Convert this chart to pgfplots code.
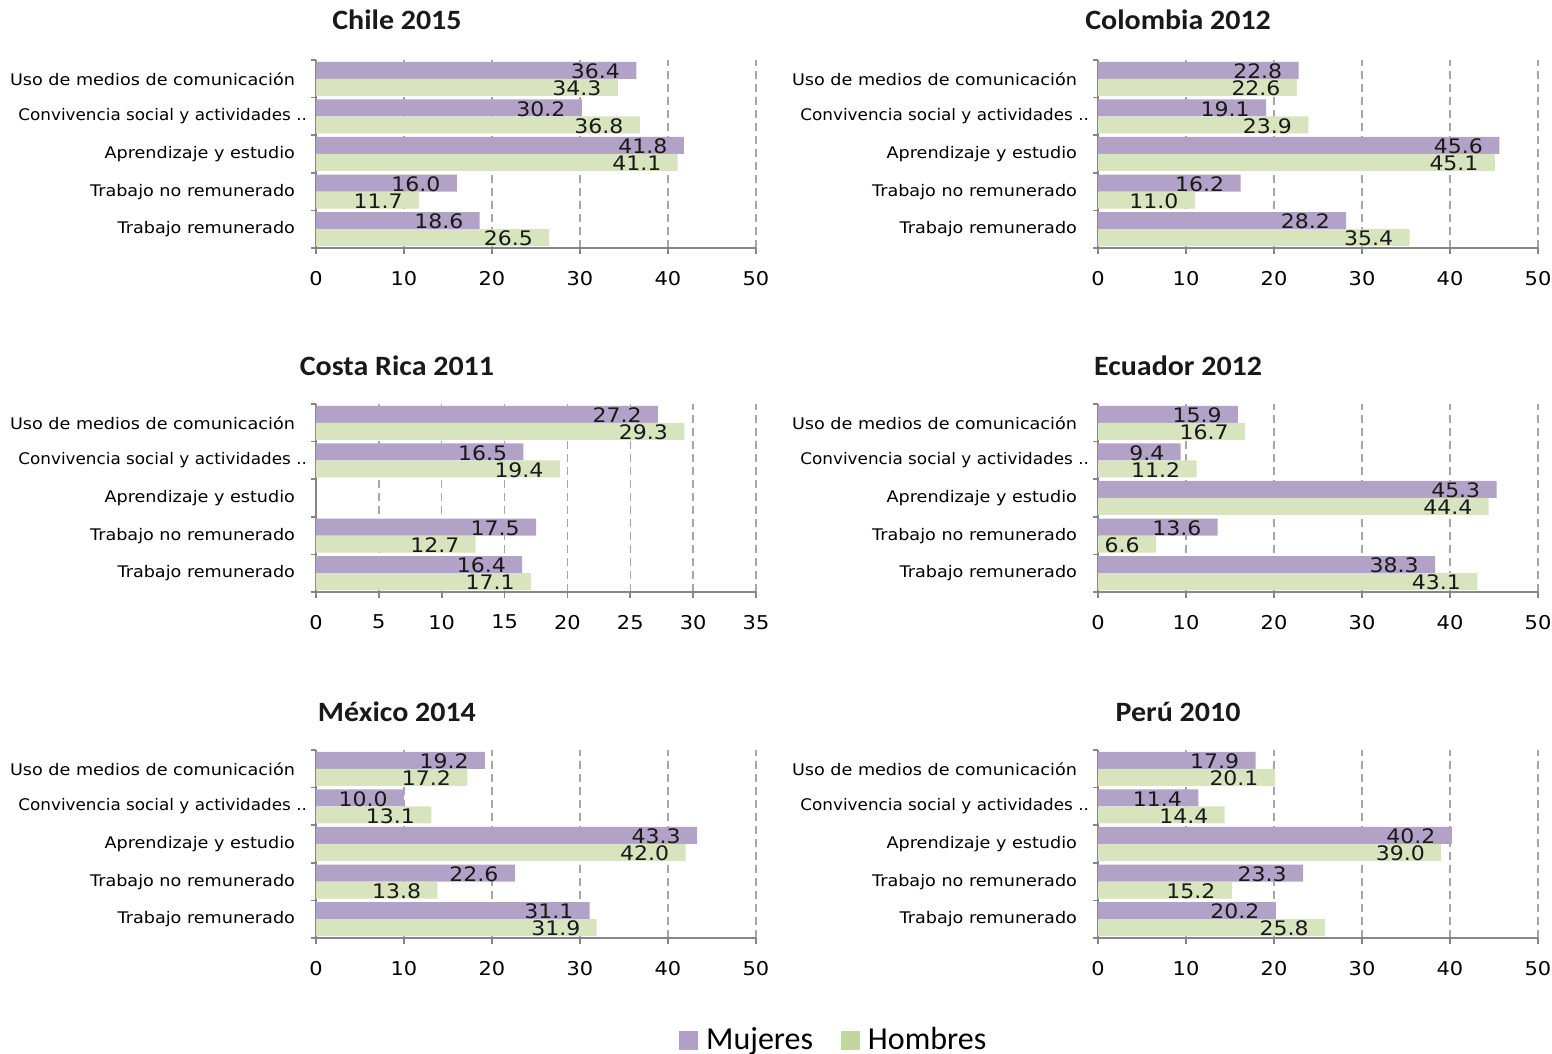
\documentclass[border=0pt]{standalone}
\usepackage{fontspec}
\usepackage{graphicx}
\setmainfont{DejaVu Sans}
\newfontfamily\tah[FakeStretch=1.1]{DejaVu Sans}
\newfontfamily\calibri{Carlito}
\newfontfamily\calibriT[FakeStretch=1.07]{Carlito}
\usepackage{pgfplots}
\pgfplotsset{compat=1.18}
\definecolor{muj}{HTML}{B3A2C7}
\definecolor{hom}{HTML}{D7E4BD}
\definecolor{mujL}{HTML}{B1A0C7}
\definecolor{homL}{HTML}{C3D69B}
\definecolor{axgray}{HTML}{868686}
\definecolor{gridgray}{HTML}{A6A6A6}
\newcommand{\convlab}{\scalebox{0.955}[1]{Convivencia social y actividades ..}\hspace*{-6pt}}
\pgfplotsset{
  panel/.style={
    xbar, scale only axis, width=220pt, height=94pt, anchor=south west,
    xmin=0, xmax=50, ymin=-0.5, ymax=4.5,
    axis x line*=bottom, axis y line*=left,
    axis line style={axgray, line width=0.8pt},
    xtick={0,10,20,30,40,50},
    xmajorgrids, grid style={dash pattern=on 4pt off 2.5pt, gridgray, line width=0.7pt},
    tick align=outside, major tick length=3pt, minor tick length=2.5pt,
    x tick style={axgray, line width=0.8pt},
    ytick={0,1,2,3,4},
    yticklabels={Trabajo remunerado, Trabajo no remunerado, Aprendizaje y estudio, \convlab, Uso de medios de comunicación},
    y tick style={draw=none},
    minor ytick={-0.5,0.5,1.5,2.5,3.5,4.5},
    minor y tick style={draw=axgray, line width=0.8pt},
    yticklabel style={font=\tah\fontsize{8}{9}\selectfont, anchor=east, xshift=-4pt},
    xticklabel style={font=\tah\fontsize{9.5}{10}\selectfont, yshift=-5pt},
    /pgf/number format/assume math mode=true,
    bar width=8.5pt,
    point meta=x,
    nodes near coords={\pgfmathprintnumber[fixed,fixed zerofill,precision=1,assume math mode=true]{\pgfplotspointmeta}},
    nodes near coords style={anchor=east, xshift=-8pt, yshift=-0.5pt, inner sep=0pt, font=\tah\fontsize{10}{10}\selectfont, text=black!90},
    title style={anchor=center, yshift=14pt, font=\calibriT\bfseries\fontsize{14}{16}\selectfont, text=black!90},
  },
  mujbar/.style={fill=muj, draw=none, bar shift=4.25pt},
  hombar/.style={fill=hom, draw=none, bar shift=-4.25pt},
}
\begin{document}
\begin{tikzpicture}
\useasboundingbox (0pt,0pt) rectangle (776pt,527pt);
% Chile 2015
\begin{axis}[panel, at={(158pt,403pt)}, title={Chile 2015}, title style={at={(0.184,1)}}]
\addplot[mujbar] coordinates {(36.4,4) (30.2,3) (41.8,2) (16.0,1) (18.6,0)};
\addplot[hombar] coordinates {(34.3,4) (36.8,3) (41.1,2) (11.7,1) (26.5,0)};
\end{axis}
% Colombia 2012
\begin{axis}[panel, at={(549pt,403pt)}, title={Colombia 2012}, title style={at={(0.182,1)}}]
\addplot[mujbar] coordinates {(22.8,4) (19.1,3) (45.6,2) (16.2,1) (28.2,0)};
\addplot[hombar] coordinates {(22.6,4) (23.9,3) (45.1,2) (11.0,1) (35.4,0)};
\end{axis}
% Costa Rica 2011
\begin{axis}[panel, at={(158pt,231pt)}, xmax=35, xtick={0,5,10,15,20,25,30,35}, title={Costa Rica 2011}, title style={at={(0.184,1)}, yshift=-1pt}]
\addplot[mujbar] coordinates {(27.2,4) (16.5,3) (17.5,1) (16.4,0)};
\addplot[hombar] coordinates {(29.3,4) (19.4,3) (12.7,1) (17.1,0)};
\end{axis}
% Ecuador 2012
\begin{axis}[panel, at={(549pt,231pt)}, title={Ecuador 2012}, title style={at={(0.182,1)}, yshift=-1pt}]
\addplot[mujbar] coordinates {(15.9,4) (9.4,3) (45.3,2) (13.6,1) (38.3,0)};
\addplot[hombar] coordinates {(16.7,4) (11.2,3) (44.4,2) (6.6,1) (43.1,0)};
\end{axis}
% Mexico 2014
\begin{axis}[panel, at={(158pt,58pt)}, title={México 2014}, title style={at={(0.184,1)}, yshift=-1pt}]
\addplot[mujbar] coordinates {(19.2,4) (10.0,3) (43.3,2) (22.6,1) (31.1,0)};
\addplot[hombar] coordinates {(17.2,4) (13.1,3) (42.0,2) (13.8,1) (31.9,0)};
\end{axis}
% Peru 2010
\begin{axis}[panel, at={(549pt,58pt)}, title={Perú 2010}, title style={at={(0.182,1)}, yshift=-1pt},
  legend style={at={(-0.598,-0.543)}, anchor=center, draw=none, fill=none,
    font=\calibri\fontsize{16}{18}\selectfont, text=black,
    legend columns=2, /tikz/every even column/.append style={column sep=12pt},
    /tikz/every odd column/.append style={column sep=2pt}},
  legend cell align=left]
\addplot[mujbar, forget plot] coordinates {(17.9,4) (11.4,3) (40.2,2) (23.3,1) (20.2,0)};
\addplot[hombar, forget plot] coordinates {(20.1,4) (14.4,3) (39.0,2) (15.2,1) (25.8,0)};
\addlegendimage{legend image code/.code={\fill[mujL] (0pt,-4.5pt) rectangle (9pt,4.5pt);}}
\addlegendentry{Mujeres}
\addlegendimage{legend image code/.code={\fill[homL] (0pt,-4.5pt) rectangle (9pt,4.5pt);}}
\addlegendentry{Hombres}
\end{axis}
\end{tikzpicture}
\end{document}
